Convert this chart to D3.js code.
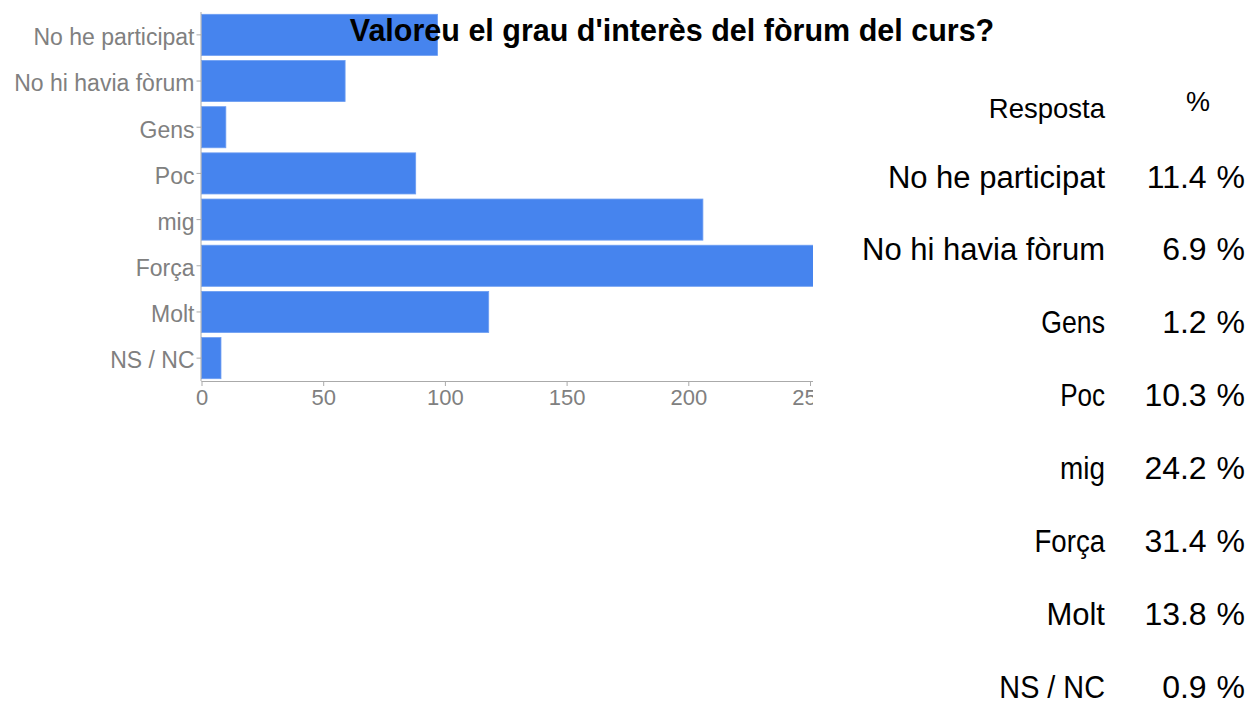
<!DOCTYPE html>
<html>
<head>
<meta charset="utf-8">
<script src="https://cdn.jsdelivr.net/npm/d3@7"></script>
<style>
  html, body { margin: 0; padding: 0; background: #fff; }
  svg { display: block; font-family: "Liberation Sans", Arial, sans-serif; }
</style>
</head>
<body>
<svg id="chart" width="1250" height="704"></svg>
<script>
const title = "Valoreu el grau d'interès del fòrum del curs?";
const categories = ["No he participat", "No hi havia fòrum", "Gens", "Poc", "mig", "Força", "Molt", "NS / NC"];
const counts = [97, 59, 10, 88, 206, 268, 118, 8];
const percents = ["11.4 %", "6.9 %", "1.2 %", "10.3 %", "24.2 %", "31.4 %", "13.8 %", "0.9 %"];
const xTicks = [0, 50, 100, 150, 200, 250];
const tableHeaders = ["Resposta", "%"];

// horizontal compression of some table labels (style only)
const labelStretch = { "Gens": 0.86, "Poc": 0.84, "mig": 0.9, "Força": 0.89, "NS / NC": 0.93 };

const svg = d3.select("#chart");

const plot = { left: 201.5, right: 810, top: 12, bottom: 381, clipRight: 813 };

const x = d3.scaleLinear().domain([0, 250]).range([plot.left, plot.right]);
const y = d3.scaleBand().domain(categories).range([plot.top, plot.bottom]).paddingInner(0.11).paddingOuter(0.05);

svg.append("defs").append("clipPath").attr("id", "clipChart")
  .append("rect").attr("x", 0).attr("y", 0).attr("width", plot.clipRight).attr("height", 704);

const g = svg.append("g").attr("clip-path", "url(#clipChart)");

g.selectAll("rect.bar").data(categories).join("rect")
  .attr("class", "bar")
  .attr("x", x(0))
  .attr("y", d => y(d))
  .attr("width", (d, i) => x(counts[i]) - x(0))
  .attr("height", y.bandwidth())
  .attr("fill", "#4684ee")
  .attr("stroke", "#6e9ef2")
  .attr("stroke-width", 0.8);

// x axis
const xAxis = d3.axisBottom(x).tickValues(xTicks).tickSize(5).tickPadding(3);
const xg = g.append("g").attr("transform", `translate(0,${plot.bottom})`).call(xAxis);
xg.select(".domain").attr("stroke", "#aaa").attr("d", `M${plot.left},0.5H${plot.clipRight}`);
xg.selectAll(".tick line").attr("stroke", "#aaa");
xg.selectAll(".tick text").attr("fill", "#808080").attr("font-size", 22).attr("font-family", "Liberation Sans, Arial, sans-serif");

// y axis
const yAxis = d3.axisLeft(y).tickSize(5).tickPadding(2);
const yg = g.append("g").attr("transform", `translate(${plot.left},0)`).call(yAxis);
yg.select(".domain").attr("stroke", "#aaa").attr("d", `M-0.5,${plot.top}V${plot.bottom}`);
yg.selectAll(".tick line").attr("stroke", "#aaa");
yg.selectAll(".tick text").attr("fill", "#808080").attr("font-size", 23).attr("dy", "0.45em")
  .attr("font-family", "Liberation Sans, Arial, sans-serif");

// title
svg.append("text")
  .attr("x", 672).attr("y", 41)
  .attr("text-anchor", "middle")
  .attr("font-size", 30.5).attr("font-weight", "bold")
  .attr("fill", "#000")
  .text(title);

// table
const tbl = { labelX: 1105, valueX: 1245, pctX: 1198, headerY: 118, pctHeaderY: 111, firstRowY: 187.5, rowStep: 72.9 };
svg.append("text").attr("x", tbl.labelX).attr("y", tbl.headerY).attr("text-anchor", "end")
  .attr("font-size", 27.5).attr("fill", "#000")
  .text(tableHeaders[0]);
svg.append("text").attr("x", tbl.pctX).attr("y", tbl.pctHeaderY).attr("text-anchor", "middle")
  .attr("font-size", 27).attr("fill", "#000").text(tableHeaders[1]);

const rows = svg.append("g").selectAll("g").data(categories).join("g")
  .attr("transform", (d, i) => `translate(0,${tbl.firstRowY + i * tbl.rowStep})`);
rows.append("text")
  .attr("transform", d => `translate(${tbl.labelX},0) scale(${labelStretch[d] || 1},1)`)
  .attr("text-anchor", "end")
  .attr("font-size", 31).attr("fill", "#000").text(d => d);
rows.append("text").attr("x", tbl.valueX).attr("text-anchor", "end")
  .attr("font-size", 32).attr("word-spacing", 1).attr("fill", "#000").text((d, i) => percents[i]);
</script>
</body>
</html>
